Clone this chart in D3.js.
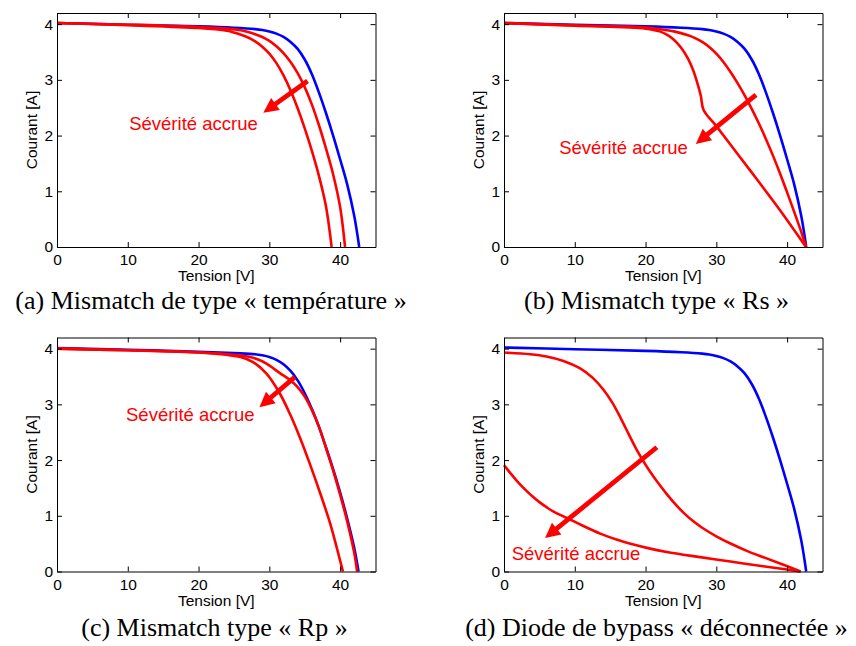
<!DOCTYPE html>
<html><head><meta charset="utf-8">
<script src="https://cdn.jsdelivr.net/npm/d3@7"></script>
<style>
html,body{margin:0;padding:0;background:#fff;}
svg{display:block;}
</style></head>
<body>
<script>
// ---------------- DATA ----------------
const xTicks = [0, 10, 20, 30, 40];
const yTicks = [0, 1, 2, 3, 4];
const xLabel = "Tension [V]";
const yLabel = "Courant [A]";
const annotationText = "Sévérité accrue";
const captions = [
  "(a) Mismatch de type « température »",
  "(b) Mismatch type « Rs »",
  "(c) Mismatch type « Rp »",
  "(d) Diode de bypass « déconnectée »"
];

// Reference (healthy) I-V curves [V, I]
const healthyA = [[0,4.02],[10,3.99],[20,3.96],[25,3.935],[28,3.91],[29,3.895],[30,3.87],[31,3.83],[32,3.77],[33,3.68],[34,3.555],[35,3.365],[36,3.105],[37,2.775],[38,2.405],[39,2.005],[40,1.575],[41,1.125],[42,0.555],[42.7,0]];
const healthyC = [[0,4.01],[10,3.98],[20,3.945],[25,3.92],[28,3.9],[29,3.88],[30,3.85],[31,3.8],[32,3.72],[33,3.6],[34,3.43],[35,3.2],[36,2.92],[37,2.6],[38,2.23],[39,1.84],[40,1.42],[41,0.95],[42,0.42],[42.6,0]];

// (a) temperature mismatch
const tempMild = [[0,4.02],[10,3.99],[20,3.95],[24,3.92],[26,3.89],[27,3.86],[28,3.82],[29,3.77],[30,3.70],[31,3.605],[32,3.48],[33,3.32],[34,3.12],[35,2.87],[36,2.56],[37,2.19],[38,1.77],[39,1.31],[40,0.72],[40.35,0.40],[40.7,0]];
const tempSevere = [[0,4.02],[10,3.98],[20,3.93],[24,3.88],[25,3.85],[26,3.81],[27,3.76],[28,3.69],[29,3.595],[30,3.47],[31,3.30],[32,3.08],[33,2.81],[34,2.49],[35,2.13],[36,1.73],[37,1.28],[38,0.73],[38.8,0]];

// (b) Rs mismatch
const rsMild = [[0,4.02],[10,3.98],[20,3.94],[22,3.91],[24,3.87],[26,3.80],[27,3.75],[28,3.68],[29,3.59],[30,3.47],[31,3.32],[32,3.14],[33,2.94],[34,2.72],[35,2.48],[36,2.22],[37,1.94],[38,1.64],[39,1.32],[40,0.98],[41,0.63],[42,0.27],[42.67,0]];
const rsSevere = [[0,4.02],[10,3.97],[20,3.92],[22,3.87],[23,3.81],[24,3.72],[25,3.58],[26,3.38],[26.7,3.18],[27.3,2.95],[27.8,2.72],[28.2,2.46],[30,2.17],[33.3,1.62],[36,1.17],[39,0.66],[42.67,0]];

// (c) Rp mismatch
const rpMild = [[0,4.0],[10,3.97],[20.2,3.93],[25,3.89],[27.3,3.85],[28.5,3.8],[29.6,3.73],[31.5,3.56],[33,3.43],[34,3.31],[35,3.14],[36,2.9],[37,2.6],[38,2.22],[39,1.82],[40,1.38],[41,0.9],[42,0.33],[42.4,0]];
const rpSevere = [[0,4.0],[10,3.97],[20.2,3.93],[25.9,3.85],[27.7,3.76],[29.6,3.55],[31.5,3.19],[32.9,2.83],[34.3,2.41],[35.7,1.94],[37.2,1.40],[38.6,0.86],[39.5,0.44],[40.4,0]];

// (d) bypass diode disconnected
const bypassMild = [[0,3.93],[3.7,3.9],[6,3.86],[8.4,3.78],[10.7,3.65],[12.5,3.48],[14,3.27],[15.3,3.03],[16.5,2.75],[17.6,2.47],[18.6,2.22],[19.6,2.0],[20.6,1.8],[21.6,1.62],[23,1.39],[24.3,1.195],[25.5,1.039],[26.8,0.896],[28,0.786],[30,0.632],[32,0.502],[34.3,0.371],[37,0.24],[39.5,0.12],[41.9,0]];
const bypassSevere = [[0,1.91],[1,1.75],[2,1.6],[3,1.47],[4,1.35],[5,1.245],[6,1.155],[7,1.075],[8.9,0.96],[11,0.83],[13.6,0.68],[16,0.57],[18.3,0.485],[20.5,0.415],[23,0.35],[27.7,0.258],[32,0.178],[36.6,0.095],[40,0.035],[41.9,0]];

const panelCurves = [
  {ref: healthyA, faults: [tempMild, tempSevere]},
  {ref: healthyA, faults: [rsMild, rsSevere]},
  {ref: healthyC, faults: [rpMild, rpSevere]},
  {ref: healthyA, faults: [bypassMild, bypassSevere]}
];
// arrows in data units: [V0, I0, V1 (tip), I1 (tip)]; label anchor [V, I]
const arrowsData = [[35.4,2.98,29.15,2.41],[35.6,2.73,27.1,1.85],[33.6,3.49,28.6,2.95],[21.6,2.23,5.8,0.60]];
const labelAnchors = [[10.2,2.10],[7.8,1.67],[9.75,2.70],[1.09,0.21]];
const xDomain = [0, 45];
const yDomain = [0, 4.2];

// ---------------- LAYOUT ----------------
const W = 856, H = 646;
const pw = 318.5, ph = 234;
const origins = [[57,13],[504,13],[57,337.5],[504,337.5]];
const captionCenters = [[211, 656.5], [214.5, 656.5]];
const captionBaselines = [309, 636];
const RED = "#ff0000", BLUE = "#0000ff";
const sans = "'Liberation Sans', Arial, Helvetica, sans-serif";
const serif = "'Liberation Serif', 'Times New Roman', Times, serif";

const svg = d3.select("body").append("svg").attr("width", W).attr("height", H);
svg.append("rect").attr("width", W).attr("height", H).attr("fill", "#fff");

const x = d3.scaleLinear().domain(xDomain).range([0, pw]);
const y = d3.scaleLinear().domain(yDomain).range([ph, 0]);
const line = d3.line().x(d => x(d[0])).y(d => y(d[1])).curve(d3.curveCatmullRom.alpha(0.5));

panelCurves.forEach((p, i) => {
  const [ox, oy] = origins[i];
  const g = svg.append("g").attr("transform", `translate(${ox},${oy})`);

  // curves
  g.append("path").attr("d", line(p.ref)).attr("fill", "none").attr("stroke", BLUE).attr("stroke-width", 2.6);
  p.faults.forEach(f => {
    g.append("path").attr("d", line(f)).attr("fill", "none").attr("stroke", RED).attr("stroke-width", 2.6);
  });

  // axes (inward ticks, box)
  const ax = [
    g.append("g").attr("transform", `translate(0,${ph})`).call(d3.axisBottom(x).tickValues(xTicks).tickSizeInner(-5).tickSizeOuter(0).tickPadding(7).tickFormat(d3.format("d"))),
    g.append("g").call(d3.axisTop(x).tickValues(xTicks).tickSizeInner(-5).tickSizeOuter(0).tickFormat("")),
    g.append("g").call(d3.axisLeft(y).tickValues(yTicks).tickSizeInner(-5).tickSizeOuter(0).tickPadding(4).tickFormat(d3.format("d"))),
    g.append("g").attr("transform", `translate(${pw},0)`).call(d3.axisRight(y).tickValues(yTicks).tickSizeInner(-5).tickSizeOuter(0).tickFormat(""))
  ];
  ax.forEach(a => {
    a.selectAll("path.domain").attr("stroke", "#000").attr("stroke-width", 1);
    a.selectAll(".tick line").attr("stroke", "#000");
    a.selectAll("text").attr("font-family", sans).attr("font-size", 15.5).attr("fill", "#000");
  });

  // axis labels
  g.append("text").attr("x", pw/2).attr("y", ph + 34).attr("text-anchor", "middle")
    .attr("font-family", sans).attr("font-size", 15.5).text(xLabel);
  g.append("text").attr("transform", `translate(-20,${ph/2}) rotate(-90)`).attr("text-anchor", "middle")
    .attr("font-family", sans).attr("font-size", 15.5).text(yLabel);

  // arrow
  const [v0, i0, v1, i1] = arrowsData[i];
  const sx = x(v0), sy = y(i0), tx = x(v1), ty = y(i1);
  const len = Math.hypot(tx - sx, ty - sy);
  const ux = (tx - sx) / len, uy = (ty - sy) / len;
  const nx = -uy, ny = ux;
  const hl = 15, hw = 7.5;
  const bx = tx - ux * hl, by = ty - uy * hl;
  g.append("line").attr("x1", sx).attr("y1", sy).attr("x2", bx + ux * 2).attr("y2", by + uy * 2)
    .attr("stroke", RED).attr("stroke-width", 4.8);
  g.append("path").attr("d", `M${tx},${ty}L${bx + nx*hw},${by + ny*hw}L${bx - nx*hw},${by - ny*hw}Z`).attr("fill", RED);

  // annotation text
  const [lv, li] = labelAnchors[i];
  g.append("text").attr("x", x(lv)).attr("y", y(li)).attr("font-family", sans).attr("font-size", 18.5)
    .attr("fill", RED).text(annotationText);

  // caption
  const row = Math.floor(i / 2);
  svg.append("text").attr("x", captionCenters[row][i % 2]).attr("y", captionBaselines[row])
    .attr("text-anchor", "middle").attr("font-family", serif).attr("font-size", 26).attr("fill", "#000")
    .text(captions[i]);
});
</script>
</body></html>
